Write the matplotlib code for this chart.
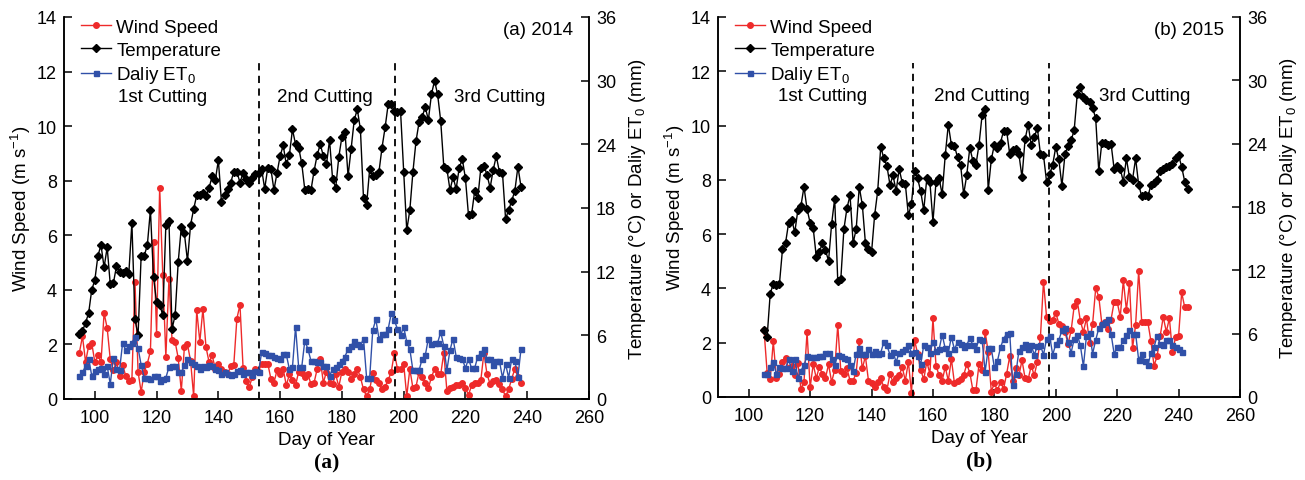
import numpy as np
import matplotlib
matplotlib.use('Agg')
import matplotlib.pyplot as plt

plt.rcParams['font.family'] = ['Liberation Sans', 'DejaVu Sans']
plt.rcParams['mathtext.fontset'] = 'custom'
plt.rcParams['mathtext.rm'] = 'Liberation Sans'
plt.rcParams['mathtext.it'] = 'Liberation Sans:italic'

# ---- 2014 (day 95 .. 238) ----
days_2014 = np.arange(95, 239)
wind_2014 = [1.7, 2.3, 1.35, 1.95, 2.05, 1.35, 1.6, 1.35, 3.15, 2.6,
             1.45, 1.05, 1.35, 0.85, 1.25, 0.85, 0.65, 0.7, 4.3, 1.0,
             0.25, 1.0, 1.3, 1.75, 5.75, 2.4, 7.75, 4.55, 1.55, 4.4,
             2.15, 2.1, 1.5, 0.3, 1.9, 2.0, 1.4, 0.1, 3.25, 2.1,
             3.3, 1.9, 1.35, 1.6, 1.1, 1.3, 1.1, 1.0, 0.9, 1.2,
             1.25, 2.95, 3.45, 1.15, 0.65, 0.45, 0.8, 1.1, 1.0,
             1.3, 1.3, 1.3, 0.75, 0.6, 1.05, 0.9, 1.1, 0.5, 0.9,
             0.7, 0.5, 1.0, 0.95, 0.8, 0.9, 0.55, 0.6, 1.1, 1.45,
             0.6, 1.0, 0.6, 0.55, 0.9, 0.45, 1.0, 1.1, 1.0, 0.75,
             0.9, 1.1, 0.8, 0.35, 0.1, 0.35, 0.95, 0.7, 0.6, 0.35,
             0.45, 0.7, 1.0, 1.7, 1.1, 1.1, 1.3, 0.1, 1.1, 0.4,
             0.45, 1.0, 0.8, 0.6, 0.4, 0.8, 1.1, 0.9, 0.9, 1.7,
             0.3, 0.4, 0.45, 0.5, 0.5, 0.6, 0.4, 0.15, 0.5, 0.6,
             0.6, 0.7, 1.7, 0.9, 0.55, 0.65, 0.7, 0.55, 0.35, 0.1,
             0.35, 0.75, 1.1, 0.8, 0.6]
temp_2014 = [6.1, 6.4, 7.2, 8.1, 10.3, 11.2, 13.5, 14.5, 12.4, 14.3,
             10.8, 10.9, 12.5, 12.0, 11.9, 12.1, 11.8, 16.6, 7.5, 6.0,
             13.5, 13.5, 14.5, 17.8, 11.5, 9.1, 8.9, 7.9, 16.4, 16.8,
             6.6, 7.9, 12.9, 16.2, 15.6, 13.0, 16.4, 17.9, 19.2, 19.2,
             19.4, 19.1, 19.9, 21.0, 20.6, 22.5, 18.6, 19.2, 19.8, 20.4,
             21.4, 21.4, 20.4, 21.3, 20.7, 20.4, 20.8, 21.2, 21.3, 21.7,
             19.8, 21.8, 21.7, 19.7, 21.3, 22.9, 23.9, 22.1, 23.0, 25.4,
             24.0, 23.7, 22.2, 19.7, 19.8, 19.7, 21.5, 23.0, 24.0, 22.9,
             22.1, 24.4, 20.7, 19.9, 22.8, 24.7, 25.2, 21.0, 23.6, 26.3,
             27.3, 25.4, 18.9, 18.3, 21.7, 21.0, 21.1, 21.4, 23.7, 25.6,
             27.8, 27.8, 27.1, 27.0, 27.1, 21.4, 15.9, 17.8, 21.4, 24.3,
             26.1, 26.6, 27.5, 26.3, 28.7, 30.0, 28.7, 26.2, 21.9, 21.7,
             19.7, 20.9, 19.8, 21.8, 22.6, 20.8, 17.3, 17.4, 19.6, 18.9,
             21.8, 22.0, 21.1, 19.9, 21.6, 22.9, 21.4, 21.3, 17.0, 17.8,
             18.7, 19.6, 21.9, 20.0]
et0_2014 = [2.2, 2.5, 3.1, 3.8, 2.2, 2.6, 2.8, 2.9, 2.4, 3.1,
            1.4, 3.9, 2.8, 2.7, 5.3, 4.6, 5.0, 5.3, 5.8, 4.8,
            3.2, 2.0, 2.0, 1.9, 2.2, 2.2, 1.7, 1.9, 2.0, 3.0,
            3.1, 3.1, 2.5, 2.5, 3.2, 3.8, 3.5, 3.3, 3.1, 2.8,
            3.1, 3.0, 3.2, 3.1, 2.8, 2.7, 2.4, 2.5, 2.4, 2.3,
            2.4, 2.6, 2.7, 2.4, 2.5, 2.5, 2.3, 2.6, 2.5,
            4.4, 4.3, 4.1, 4.1, 4.0, 3.9, 3.8, 4.2, 4.2, 2.8,
            3.0, 6.8, 3.0, 3.0, 5.5, 4.7, 3.6, 3.6, 3.5,
            3.5, 3.1, 3.1, 2.2, 2.8, 3.0, 3.3, 3.6, 4.0, 4.7, 5.0,
            5.5, 5.2,
            5.0, 5.7, 2.0, 2.0, 6.5, 7.5, 5.7, 6.1, 6.1, 6.6,
            8.1, 7.4, 6.6, 6.0, 6.8, 5.4, 4.7, 2.7, 2.7, 2.7,
            3.8, 4.1, 5.7, 5.2, 5.3, 5.3, 6.3, 5.0, 2.7, 4.6,
            5.7, 4.0, 3.9, 3.8, 2.9, 3.8, 2.9, 2.9, 4.0, 4.3,
            4.7, 3.8, 3.8, 3.2, 3.6, 3.6, 2.0, 3.3, 2.0, 3.8,
            3.6, 2.1, 4.7]

# ---- 2015 (day 105 .. 243) ----
days_2015 = np.arange(105, 244)
days_et0_2015 = np.arange(105, 242)
wind_2015 = [2.45, 0.9, 0.65, 2.05, 0.7, 0.85, 1.3, 1.45, 1.05, 1.15,
             0.8, 1.25, 0.3, 0.55, 2.4, 0.35, 1.2, 0.7, 1.1, 0.85,
             0.7, 1.2, 0.55, 1.0, 2.65, 0.95, 0.85, 1.05, 0.6, 0.6,
             0.9, 2.05, 1.05, 1.5, 0.6, 0.5, 0.35, 0.55, 0.7, 0.35,
             0.25, 0.85, 0.55, 0.7, 0.8, 1.1, 0.6, 1.3, 0.15, 2.1,
             1.6, 1.0, 0.65, 1.3, 0.85, 2.9, 1.15, 0.8, 0.6, 1.1,
             0.6, 1.4, 0.5, 0.6, 0.65, 0.8, 1.2, 0.9, 0.25, 0.25,
             1.2, 1.0, 2.4, 1.65, 0.2, 0.5, 0.25, 0.55, 0.3, 0.85,
             1.5, 0.6, 1.05, 0.8, 1.35, 0.7, 0.65, 1.15, 0.8, 1.3,
             2.2, 4.25, 2.95, 2.8, 2.85, 3.1, 2.7, 2.6, 2.4, 1.95,
             2.45, 3.35, 3.55, 2.8, 2.4, 2.9, 2.0, 2.7, 4.0, 3.7,
             2.7, 2.75, 2.5, 2.85, 3.5, 3.5, 2.95, 4.3, 3.2, 4.2,
             1.8, 2.65, 4.65, 2.75, 2.75, 2.75, 2.05, 1.15, 1.5, 2.25,
             2.95, 2.4, 2.9, 1.65, 2.2, 2.25, 3.85, 3.3, 3.3]
temp_2015 = [6.3, 5.7, 9.8, 10.7, 10.6, 10.7, 14.0, 14.6, 16.5, 16.8,
             15.6, 17.7, 18.1, 19.9, 17.8, 16.5, 16.0, 13.3, 13.7, 14.6,
             13.9, 12.9, 16.4, 18.8, 11.0, 11.2, 15.9, 17.9, 19.1, 14.6,
             15.9, 19.9, 18.2, 14.6, 14.0, 13.7, 17.2, 19.5, 23.7, 22.6,
             21.9, 20.1, 21.0, 19.5, 21.6, 20.3, 20.2, 17.2, 18.3, 21.4,
             20.7, 19.5, 17.7, 20.7, 20.4, 16.6, 20.4, 20.7, 19.2, 22.9,
             25.8, 23.9, 23.8, 22.7, 22.0, 19.2, 21.0, 23.6, 22.4, 22.0,
             23.9, 26.7, 27.3, 19.6, 22.5, 23.9, 23.6, 24.1, 25.2, 25.2,
             23.0, 23.4, 23.5, 23.0, 20.8, 24.4, 25.8, 23.9, 24.6, 25.5,
             23.0, 22.9, 20.4, 21.1, 22.0, 23.7, 22.5, 20.0, 23.0, 23.8,
             24.3, 25.3, 28.7, 29.4, 28.4, 28.1, 27.9, 27.4, 26.4, 21.4,
             24.1, 24.1, 23.9, 24.0, 21.6, 21.9, 21.6, 20.4, 22.6, 20.8,
             20.6, 22.6, 20.1, 19.0, 19.1, 19.0, 20.1, 20.3, 20.6, 21.4,
             21.6, 21.8, 21.9, 22.1, 22.6, 22.9, 21.8, 20.4, 19.7]
et0_2015 = [2.2, 2.2, 2.8, 3.3, 2.2, 2.8, 2.7, 2.7, 3.6, 2.5,
            3.6, 1.8, 2.5, 3.0, 3.9, 3.8, 3.8, 3.8, 3.9, 3.9,
            4.2, 4.2, 3.6, 3.0, 4.0, 3.9, 3.7, 3.6, 3.0, 2.5,
            4.1, 4.6, 4.1, 4.1, 4.5, 4.1, 4.4, 4.1, 4.2, 5.2,
            4.9, 4.0, 4.3, 3.3, 4.2, 4.4, 4.5, 4.9, 4.2, 4.3,
            3.9, 3.1, 4.9, 4.7, 4.2, 5.2, 4.4, 4.5, 5.9, 4.6,
            4.2, 5.7, 4.5, 5.2, 5.0, 4.7, 4.9, 5.6, 4.9, 4.5,
            5.5, 5.4, 2.4, 4.6, 4.6, 2.8, 3.4, 4.7, 5.5, 6.0,
            6.1, 1.1, 2.2, 4.4, 4.7, 5.0, 4.5, 4.9, 4.0, 4.8,
            4.9, 4.0, 5.5, 5.8, 4.0, 5.0, 5.4, 6.3, 6.5, 5.2,
            4.2, 5.5, 5.9, 4.9, 2.9, 5.8, 6.1, 4.1, 5.4, 6.5,
            6.9, 7.1, 7.4, 6.0, 4.1, 4.7, 4.7, 5.4, 5.9, 6.3,
            6.0, 6.0, 3.5, 4.1, 3.4, 3.0, 4.2, 4.7, 5.8, 5.0,
            4.9, 5.4, 5.4, 4.9, 4.7, 4.5, 4.3]

cut_2014 = [153.2, 197.2]
cut_2015 = [153.5, 197.7]
cut_labels = ['1st Cutting', '2nd Cutting', '3rd Cutting']
cut_label_x_2014 = [122, 174.5, 231]
cut_label_x_2015 = [124, 176, 229]

red = '#ee2a2a'
blue = '#3050a8'
fs = 13.5

fig = plt.figure(figsize=(13.05, 4.81), dpi=100)


def draw_panel(rect, d_ws, ws, d_t, t, d_e, e, cuts, lab_x, tag, letter):
    ax = fig.add_axes(rect)
    ax2 = ax.twinx()
    l1, = ax.plot(d_ws, ws, '-o', color=red, lw=1.0, ms=4, label='Wind Speed')
    l2, = ax2.plot(d_t, t, '-D', color='black', lw=1.0, ms=4, label='Temperature')
    l3, = ax2.plot(d_e, e, '-s', color=blue, lw=1.0, ms=3.6, label='Daliy ET$\\mathregular{_0}$')
    for c in cuts:
        ax.plot([c, c], [0, 12.3], '--', color='black', lw=1.3, dashes=(4, 3))
    for x, s in zip(lab_x, cut_labels):
        ax.text(x, 11.1, s, ha='center', va='center', fontsize=fs)
    ax.text(254.8, 13.55, tag, ha='right', va='center', fontsize=fs)

    ax.set_xlim(90, 260)
    ax.set_ylim(0, 14)
    ax2.set_ylim(0, 36)
    ax.set_xticks(np.arange(100, 261, 20))
    ax.set_yticks(np.arange(0, 15, 2))
    ax2.set_yticks(np.arange(0, 37, 6))
    for a in (ax, ax2):
        a.spines['top'].set_visible(False)
        for s in a.spines.values():
            s.set_linewidth(1.1)
        a.tick_params(direction='in', length=6, width=1.1, labelsize=13, pad=5)
    ax.tick_params(axis='x', pad=7)
    ax.set_xlabel('Day of Year', fontsize=fs, labelpad=4)
    ax.set_ylabel('Wind Speed (m s$\\mathregular{^{-1}}$)', fontsize=fs, labelpad=3)
    ax2.set_ylabel('Temperature (\u00b0C) or Daliy ET$\\mathregular{_0}$ (mm)', fontsize=fs, labelpad=8)
    ax2.legend(handles=[l1, l2, l3], loc='upper left', bbox_to_anchor=(0.032, 0.995),
               frameon=False, fontsize=fs, handlelength=1.6, handletextpad=0.3,
               labelspacing=0.3, borderpad=0, borderaxespad=0)
    ax.text(0.5, -0.14, letter, transform=ax.transAxes, ha='center', va='top',
            fontsize=15.5, fontweight='bold', family='Liberation Serif')


draw_panel([0.049, 0.1684, 0.4023, 0.7942], days_2014, wind_2014, days_2014, temp_2014,
           days_2014, et0_2014, cut_2014, cut_label_x_2014, '(a) 2014', '(a)')
draw_panel([0.5502, 0.1726, 0.4, 0.790], days_2015, wind_2015, days_2015, temp_2015,
           days_et0_2015, et0_2015, cut_2015, cut_label_x_2015, '(b) 2015', '(b)')

fig.savefig('out.png', dpi=100)
